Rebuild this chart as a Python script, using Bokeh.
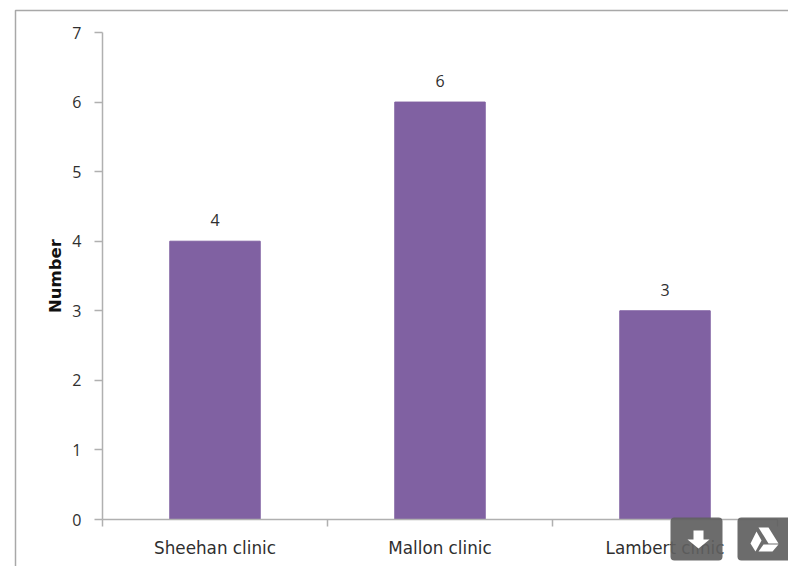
from bokeh.plotting import figure
from bokeh.embed import file_html
from bokeh.resources import INLINE
from bokeh.models import ColumnDataSource, FixedTicker, BoxAnnotation, PolyAnnotation
from bokeh.core.properties import value

categories = ["Sheehan clinic", "Mallon clinic", "Lambert clinic"]
numbers = [4, 6, 3]
y_ticks = [0, 1, 2, 3, 4, 5, 6, 7]
BAR = "#8061A2"
AXIS = "#b0b0b0"
TEXT = "#2f2f2f"
FONT = "Open Sans"
LABEL_FONT = "DejaVu Sans"

W, H = 788, 566
# plot area in canvas pixels
LEFT, RIGHT, TOP, BOTTOM = 102, 777, 32, 519
n = len(categories)
ux = (RIGHT - LEFT) / n
uy = (BOTTOM - TOP) / y_ticks[-1]

positions = [i + 0.5 for i in range(n)]
source = ColumnDataSource(dict(x=positions, top=numbers, label=[str(v) for v in numbers]))

p = figure(width=W, height=H, output_backend="svg", toolbar_location=None,
           x_range=(-LEFT / ux, (W - LEFT) / ux), y_range=(-(H - BOTTOM) / uy, y_ticks[-1] + TOP / uy),
           min_border_left=0, min_border_right=0, min_border_top=0, min_border_bottom=0,
           background_fill_color="white", border_fill_color="white")
p.outline_line_color = None
p.grid.visible = False

p.vbar(x="x", top="top", bottom=0, width=0.402, color=BAR, source=source)
p.text(x="x", y="top", text="label", source=source, text_align="center", text_baseline="bottom",
       y_offset=-15, text_font=value(FONT), text_font_size="16px", text_color=TEXT)

xa = p.xaxis[0]
xa.fixed_location = 0
xa.bounds = (0, n)
xa.ticker = FixedTicker(ticks=positions, minor_ticks=list(range(n + 1)))
xa.major_label_overrides = {pos: cat for pos, cat in zip(positions, categories)}
xa.major_tick_line_color = None
xa.major_tick_in = 0
xa.major_tick_out = 0
xa.minor_tick_in = 0
xa.minor_tick_out = 7
xa.minor_tick_line_color = AXIS
xa.minor_tick_line_width = 1.5
xa.axis_line_color = AXIS
xa.axis_line_width = 1.5
xa.major_label_standoff = 11
xa.major_label_text_font = LABEL_FONT
xa.major_label_text_font_size = "16.8px"
xa.major_label_text_color = TEXT

ya = p.yaxis[0]
ya.fixed_location = 0
ya.bounds = (0, y_ticks[-1])
ya.ticker = FixedTicker(ticks=y_ticks)
ya.major_tick_in = 0
ya.major_tick_out = 8
ya.minor_tick_line_color = None
ya.major_tick_line_color = AXIS
ya.major_tick_line_width = 1.5
ya.axis_line_color = AXIS
ya.axis_line_width = 1.5
ya.major_label_standoff = 13
ya.major_label_text_font = FONT
ya.major_label_text_font_size = "16px"
ya.major_label_text_color = TEXT
ya.axis_label = "Number"
ya.axis_label_text_font = LABEL_FONT
ya.axis_label_text_font_size = "16.5px"
ya.axis_label_text_font_style = "bold"
ya.axis_label_text_color = "#111111"
ya.axis_label_standoff = 4

# outer chart frame
p.add_layout(BoxAnnotation(left=15, right=900, top=10, bottom=900,
                           left_units="canvas", right_units="canvas", top_units="canvas", bottom_units="canvas",
                           fill_alpha=0, line_color="#a8a8a8", line_alpha=1, line_width=1.5, level="underlay"))

# overlay buttons of the source page
for l, r in [(670, 722), (737, 800)]:
    p.add_layout(BoxAnnotation(left=l, right=r, top=517, bottom=560,
                               left_units="canvas", right_units="canvas", top_units="canvas", bottom_units="canvas",
                               fill_color="#5f5f5f", fill_alpha=0.92, line_color=None,
                               border_radius=4, level="overlay"))

arrow_x = [693, 703, 703, 709, 698, 687, 693]
arrow_y = [530, 530, 539, 539, 548, 539, 539]
p.add_layout(PolyAnnotation(xs=arrow_x, ys=arrow_y, xs_units="canvas", ys_units="canvas",
                            fill_color="white", fill_alpha=1, line_color=None, level="overlay"))
for xs, ys in [([758, 768, 778, 768], [527, 527, 543, 543]),
               ([756, 761, 755, 750], [531, 540, 551, 543]),
               ([763, 778, 772, 758], [544, 544, 551, 551])]:
    p.add_layout(PolyAnnotation(xs=xs, ys=ys, xs_units="canvas", ys_units="canvas",
                                fill_color="white", fill_alpha=1, line_color=None, level="overlay"))

open("out.html", "w").write(file_html(p, INLINE))
